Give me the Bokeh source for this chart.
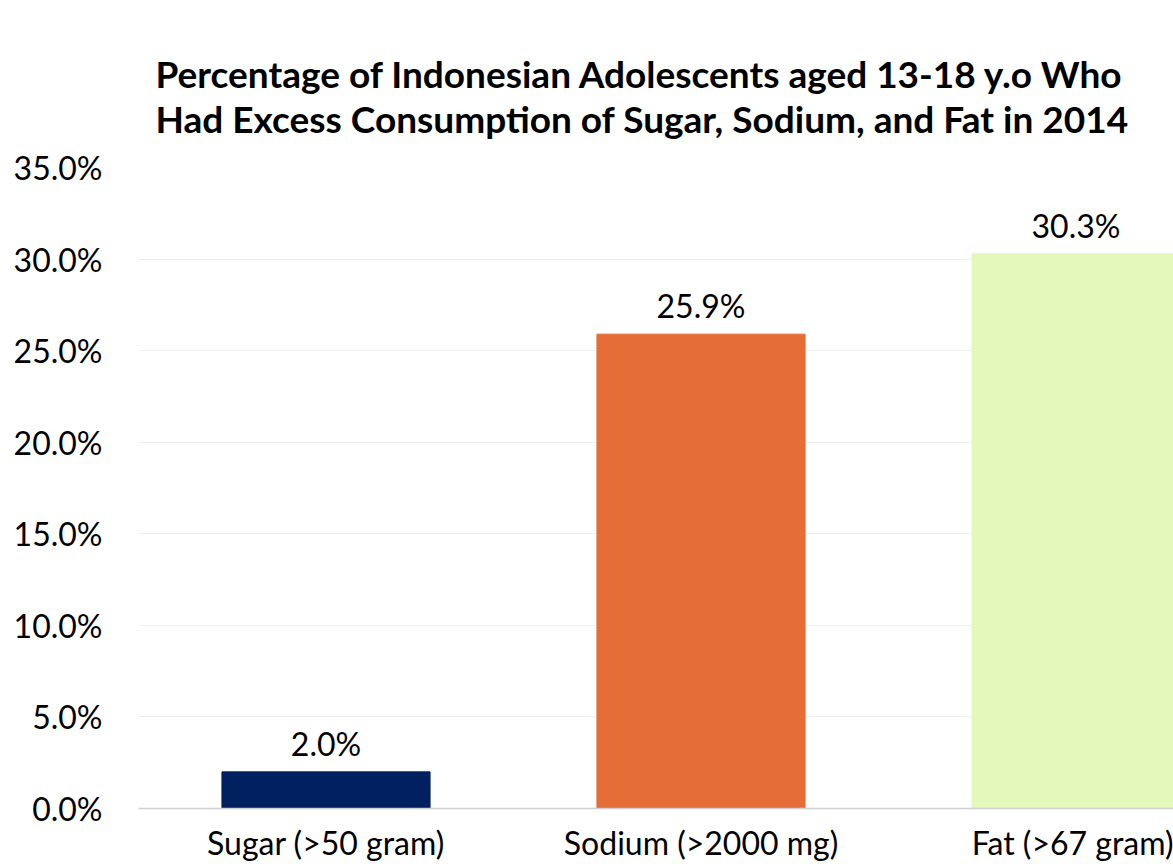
from bokeh.plotting import figure
from bokeh.models import Range1d, FixedTicker, PrintfTickFormatter, Title, ColumnDataSource
from bokeh.core.properties import value
from bokeh.embed import file_html
from bokeh.resources import INLINE

categories = ["Sugar (>50 gram)", "Sodium (>2000 mg)", "Fat (>67 gram)"]
percentages = [2.0, 25.9, 30.3]
bar_colors = ["#002060", "#E56D36", "#E4F8BC"]
y_ticks = [0, 5, 10, 15, 20, 25, 30, 35]
title_lines = ["Percentage of Indonesian Adolescents aged 13-18 y.o Who",
               "Had Excess Consumption of Sugar, Sodium, and Fat in 2014"]

FONT = "Lato"

xpos = [i + 0.5 for i in range(len(categories))]
src = ColumnDataSource(dict(x=xpos, top=percentages, color=bar_colors,
                            label=[f"{v:.1f}%" for v in percentages]))

p = figure(width=1173, height=864, output_backend="svg", toolbar_location=None,
           x_range=Range1d(0, 2.76), y_range=Range1d(0, 35),
           min_border_left=138, min_border_right=0, min_border_top=167, min_border_bottom=0)
p.outline_line_color = None
p.background_fill_color = "white"
p.border_fill_color = "white"

p.vbar(x="x", top="top", bottom=0, width=0.555, color="color", source=src)
p.text(x="x", y="top", text="label", source=src, text_align="center", text_baseline="bottom",
       y_offset=-9, text_font=value(FONT), text_font_size="32px", text_color="#000000")

p.title = Title(text="\n".join(title_lines), align="left", text_font=FONT, text_font_size="37px",
                text_font_style="bold", text_color="#000000", offset=17, standoff=53)

# y axis
p.yaxis.ticker = FixedTicker(ticks=y_ticks)
p.yaxis.formatter = PrintfTickFormatter(format="%.1f%%")
p.yaxis.axis_line_color = None
p.yaxis.major_tick_line_color = None
p.yaxis.minor_tick_line_color = None
p.yaxis.major_label_text_font = FONT
p.yaxis.major_label_text_font_size = "32px"
p.yaxis.major_label_text_color = "#000000"
p.yaxis.major_label_standoff = 30

# x axis
p.xaxis.ticker = FixedTicker(ticks=xpos)
p.xaxis.major_label_overrides = {x: c for x, c in zip(xpos, categories)}
p.xaxis.axis_line_color = "#D0D0D0"
p.xaxis.axis_line_width = 1.5
p.xaxis.major_tick_line_color = None
p.xaxis.minor_tick_line_color = None
p.xaxis.major_label_text_font = FONT
p.xaxis.major_label_text_font_size = "32px"
p.xaxis.major_label_text_color = "#000000"
p.xaxis.major_label_standoff = 8

p.xgrid.grid_line_color = None
p.ygrid.ticker = FixedTicker(ticks=y_ticks[1:])
p.ygrid.grid_line_color = "#EFEFEF"
p.ygrid.grid_line_width = 1

open("out.html", "w").write(file_html(p, INLINE))
